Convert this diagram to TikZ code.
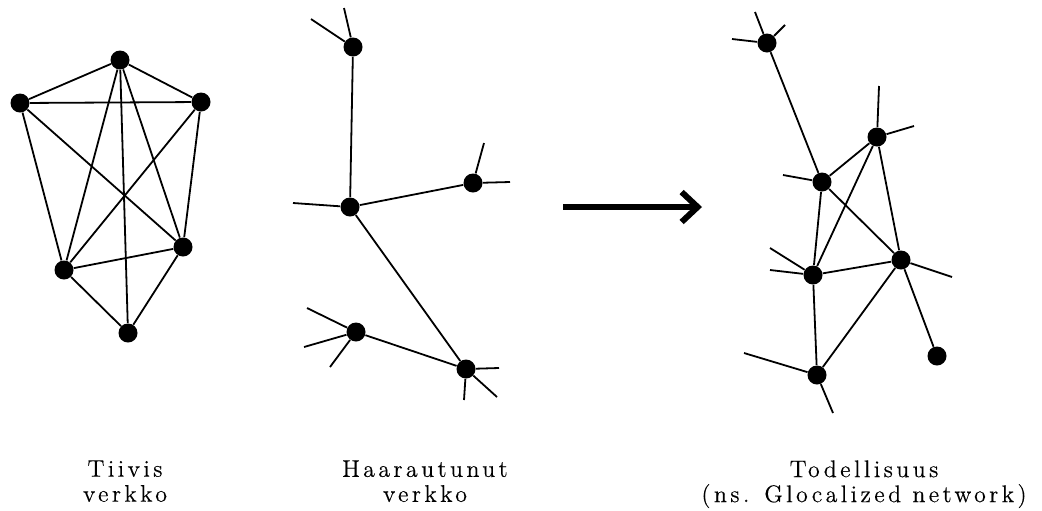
\documentclass[tikz,border=0pt]{standalone}
\usepackage{fontspec}
\usetikzlibrary{arrows.meta}
\newfontfamily\capfam{lmroman12-regular.otf}[LetterSpace=14,FakeBold=0.3]
\newcommand{\capfont}{\capfam\fontsize{12}{12.5}\selectfont}

\begin{document}
\begin{tikzpicture}[x=0.5pt,y=-0.5pt,
  dot/.style={circle,fill=black,inner sep=0pt,minimum size=9.5pt},
  edge/.style={line width=0.9pt},
  caption/.style={align=center,font=\capfont,inner sep=0pt,anchor=north}
]
  \useasboundingbox (0,0) rectangle (1042,510);

  % Tiivis verkko
  \node[dot] (t1) at (120,60) {};
  \node[dot] (t2) at (20,103) {};
  \node[dot] (t3) at (201,102) {};
  \node[dot] (t4) at (64,270) {};
  \node[dot] (t5) at (183,247) {};
  \node[dot] (t6) at (128,333) {};
  \foreach \a/\b in {t1/t2,t1/t3,t2/t3,t1/t4,t1/t5,t1/t6,t2/t4,t2/t5,
                     t3/t4,t3/t5,t4/t5,t4/t6,t5/t6}
    \draw[edge] (\a) -- (\b);
  \node[caption] (capT) at (125,460) {Tiivis\\verkko};

  % Haarautunut verkko
  \node[dot] (h1) at (353,47) {};
  \node[dot] (h2) at (350,207) {};
  \node[dot] (h3) at (473,183) {};
  \node[dot] (h4) at (356,332) {};
  \node[dot] (h5) at (466,369) {};
  \foreach \a/\b in {h1/h2,h2/h3,h2/h5,h4/h5}
    \draw[edge] (\a) -- (\b);
  \foreach \a/\x/\y [count=\i] in {h1/311/19,h1/344/8,h2/293/203,h3/484/143,
      h3/510/182,h4/307/308,h4/304/347,h4/330/367,h5/499/368,h5/497/397,h5/464/400}
    {\coordinate (hs\i) at (\x,\y); \draw[edge] (\a) -- (hs\i);}
  \node[caption] (capH) at (425,460) {Haarautunut\\verkko};

  % nuoli
  \coordinate (arrS) at (563,207);
  \coordinate (arrE) at (702,207);
  \draw[line width=3pt,-{Straight Barb[length=8pt,width=15pt]}] (arrS) -- (arrE);

  % Todellisuus
  \node[dot] (g1) at (767,43) {};
  \node[dot] (g2) at (822,182) {};
  \node[dot] (g3) at (877,137) {};
  \node[dot] (g4) at (813,275) {};
  \node[dot] (g5) at (901,260) {};
  \node[dot] (g6) at (937,356) {};
  \node[dot] (g7) at (817,375) {};
  \foreach \a/\b in {g1/g2,g2/g3,g2/g4,g2/g5,g3/g4,g3/g5,g4/g5,g4/g7,g5/g7,g5/g6}
    \draw[edge] (\a) -- (\b);
  \foreach \a/\x/\y [count=\i] in {g1/732/39,g1/755/12,g1/785/25,g2/783/175,
      g3/879/86,g3/914/126,g4/770/248,g4/770/270,g5/952/277,g7/744/353,g7/833/413}
    {\coordinate (gs\i) at (\x,\y); \draw[edge] (\a) -- (gs\i);}
  \node[caption] (capG) at (864,460) {Todellisuus\\(ns. Glocalized network)};
\end{tikzpicture}
\end{document}
